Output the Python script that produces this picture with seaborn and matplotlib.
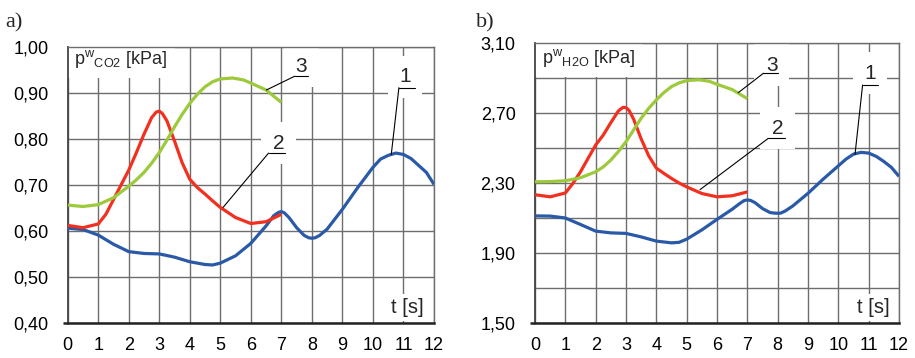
import matplotlib
matplotlib.use("Agg")
import matplotlib.pyplot as plt
import seaborn as sns
import pandas as pd
from matplotlib.ticker import FuncFormatter, FixedLocator

# ---------------- data ----------------
t_1 = [0, 0.5, 1, 1.5, 2, 2.5, 3, 3.5, 4, 4.5, 4.75, 5, 5.5, 6, 6.5, 6.75, 6.9, 7, 7.1,
       7.25, 7.5, 7.75, 7.9, 8, 8.1, 8.25, 8.5, 9, 9.5, 10, 10.25, 10.5, 10.75, 11,
       11.25, 11.5, 11.75, 12]
t_2 = [0, 0.5, 1, 1.25, 1.5, 1.75, 2, 2.25, 2.5, 2.75, 2.9, 3, 3.1, 3.25, 3.5, 3.75,
       4, 4.25, 4.5, 4.75, 5, 5.5, 6, 6.5, 7]
t_3 = [0, 0.5, 1, 1.5, 2, 2.25, 2.5, 2.75, 3, 3.25, 3.5, 3.75, 4, 4.25, 4.5, 4.75, 5,
       5.4, 5.75, 6, 6.5, 7]

co2_1 = [0.606, 0.603, 0.591, 0.571, 0.555, 0.551, 0.550, 0.543, 0.533, 0.527, 0.526,
         0.530, 0.546, 0.573, 0.611, 0.633, 0.640, 0.642, 0.639, 0.629, 0.607, 0.590,
         0.585, 0.584, 0.585, 0.590, 0.604, 0.647, 0.694, 0.738, 0.756, 0.764, 0.769,
         0.766, 0.757, 0.742, 0.727, 0.701]
co2_2 = [0.612, 0.607, 0.615, 0.636, 0.668, 0.700, 0.732, 0.770, 0.810, 0.846, 0.858,
         0.860, 0.855, 0.839, 0.795, 0.748, 0.712, 0.694, 0.680, 0.665, 0.651, 0.629,
         0.616, 0.620, 0.636]
co2_3 = [0.656, 0.653, 0.657, 0.672, 0.697, 0.711, 0.727, 0.747, 0.770, 0.797, 0.826,
         0.853, 0.877, 0.897, 0.913, 0.924, 0.930, 0.932, 0.928, 0.921, 0.906, 0.879]

h2o_1 = [2.112, 2.111, 2.100, 2.063, 2.025, 2.015, 2.012, 1.992, 1.968, 1.958, 1.961,
         1.979, 2.032, 2.092, 2.150, 2.183, 2.200, 2.203, 2.201, 2.188, 2.154, 2.131,
         2.128, 2.127, 2.128, 2.140, 2.169, 2.241, 2.322, 2.398, 2.436, 2.465, 2.475,
         2.471, 2.452, 2.423, 2.389, 2.338]
h2o_2 = [2.233, 2.221, 2.243, 2.298, 2.364, 2.441, 2.517, 2.574, 2.645, 2.712, 2.732,
         2.731, 2.715, 2.665, 2.552, 2.455, 2.385, 2.355, 2.326, 2.300, 2.278, 2.240,
         2.221, 2.227, 2.249]
h2o_3 = [2.307, 2.308, 2.313, 2.330, 2.364, 2.392, 2.431, 2.480, 2.536, 2.603, 2.670,
         2.727, 2.775, 2.817, 2.851, 2.872, 2.885, 2.890, 2.881, 2.864, 2.834, 2.782]

x_ticks = list(range(0, 13))
co2_ticks = [0.40, 0.50, 0.60, 0.70, 0.80, 0.90, 1.00]
h2o_ticks = [1.50, 1.90, 2.30, 2.70, 3.10]
h2o_minor = [1.70, 2.10, 2.50, 2.90]

series_names = ["1", "2", "3"]

# ---------------- style ----------------
sns.set_theme(style="white")
plt.rcParams["font.family"] = ["Liberation Sans", "DejaVu Sans"]
plt.rcParams["mathtext.fontset"] = "custom"
plt.rcParams["mathtext.rm"] = "Liberation Sans"
plt.rcParams["mathtext.it"] = "Liberation Sans:italic"
plt.rcParams["axes.axisbelow"] = True

BLUE = "#2a5aa7"
RED = "#f2301f"
GREEN = "#9cca3a"
GRID = "#6e6e6e"
colors = {"1": BLUE, "2": RED, "3": GREEN}


def make_df(t1, v1, t2, v2, t3, v3):
    frames = []
    for name, t, v in zip(series_names, [t1, t2, t3], [v1, v2, v3]):
        frames.append(pd.DataFrame({"t": t, "p": v, "curve": name}))
    return pd.concat(frames, ignore_index=True)


df_co2 = make_df(t_1, co2_1, t_2, co2_2, t_3, co2_3)
df_h2o = make_df(t_1, h2o_1, t_2, h2o_2, t_3, h2o_3)

fig = plt.figure(figsize=(9.15, 3.58), dpi=100)
ax1 = fig.add_axes([67.7 / 915, 1 - 323 / 358, 366.3 / 915, 276.3 / 358])
ax2 = fig.add_axes([535 / 915, 1 - 323 / 358, 364 / 915, 280 / 358])

comma = FuncFormatter(lambda v, p: f"{v:.2f}".replace(".", ","))


def style_axes(ax, ylim, major, minor):
    ax.set_xlim(0, 12)
    ax.set_ylim(*ylim)
    ax.xaxis.set_major_locator(FixedLocator(x_ticks))
    ax.yaxis.set_major_locator(FixedLocator(major))
    if minor:
        ax.yaxis.set_minor_locator(FixedLocator(minor))
    ax.yaxis.set_major_formatter(comma)
    ax.grid(True, which="both", color=GRID, linewidth=1.0)
    ax.tick_params(axis="both", which="both", length=0, labelsize=13, colors="black")
    ax.tick_params(axis="y", pad=14)
    ax.tick_params(axis="x", pad=10)
    for s in ["top", "right"]:
        ax.spines[s].set_color(GRID)
        ax.spines[s].set_linewidth(1.0)
    ax.spines["left"].set_color("#444444")
    ax.spines["left"].set_linewidth(1.3)
    ax.spines["bottom"].set_color("#222222")
    ax.spines["bottom"].set_linewidth(1.8)
    # small extension of the bottom axis line to the left
    ax.plot([-0.013, 0], [0, 0], transform=ax.transAxes, color="#222222",
            lw=1.8, clip_on=False, solid_capstyle="butt")
    ax.set_xlabel("")
    ax.set_ylabel("")


def draw(ax, df):
    sns.lineplot(data=df, x="t", y="p", hue="curve", palette=colors, ax=ax,
                 legend=False, linewidth=2.3, sort=True, estimator=None, zorder=3)
    for ln in ax.lines:
        ln.set_solid_joinstyle("round")
        ln.set_solid_capstyle("butt")


def number_label(ax, text, tx, ty, ux0, ux1, uy, lx, ly):
    ax.text(tx, ty, text, ha="center", va="center", fontsize=15, zorder=1.2,
            bbox=dict(boxstyle="square,pad=0.55", fc="white", ec="none"))
    ax.plot([ux0, ux1], [uy, uy], color="black", lw=0.8, zorder=4)
    ax.plot([ux0, lx], [uy, ly], color="black", lw=0.8, zorder=4)


# ---------------- panel a ----------------
draw(ax1, df_co2)
style_axes(ax1, (0.40, 1.00), co2_ticks, None)
ax1.text(0.2, 0.962, r"p$^{\mathrm{w}}$$_{\mathrm{CO2}}$ [kPa]", fontsize=13,
         ha="left", va="baseline", zorder=1.2,
         bbox=dict(boxstyle="square,pad=0.45", fc="white", ec="none"))
ax1.text(10.6, 0.433, "t [s]", fontsize=14.5, ha="left", va="center", zorder=1.2,
         bbox=dict(boxstyle="square,pad=0.2", fc="white", ec="none"))
number_label(ax1, "3", 7.66, 0.957, 7.44, 7.88, 0.936, 6.51, 0.906)
number_label(ax1, "2", 6.90, 0.790, 6.58, 7.11, 0.769, 5.09, 0.651)
number_label(ax1, "1", 11.05, 0.935, 10.85, 11.37, 0.911, 10.60, 0.766)

# ---------------- panel b ----------------
draw(ax2, df_h2o)
style_axes(ax2, (1.50, 3.10), h2o_ticks, h2o_minor)
ax2.text(0.22, 2.985, r"p$^{\mathrm{w}}$$_{\mathrm{H2O}}$ [kPa]", fontsize=13,
         ha="left", va="baseline", zorder=1.2,
         bbox=dict(boxstyle="square,pad=0.45", fc="white", ec="none"))
ax2.text(10.6, 1.588, "t [s]", fontsize=14.5, ha="left", va="center", zorder=1.2,
         bbox=dict(boxstyle="square,pad=0.2", fc="white", ec="none"))
number_label(ax2, "3", 7.80, 2.974, 7.53, 8.02, 2.927, 6.70, 2.816)
number_label(ax2, "2", 7.99, 2.613, 7.69, 8.24, 2.555, 5.44, 2.262)
number_label(ax2, "1", 11.05, 2.927, 10.80, 11.32, 2.860, 10.55, 2.464)

# panel letters
fig.text(5 / 915, 1 - 27 / 358, "a)", fontsize=16, family="Liberation Serif",
         ha="left", va="baseline")
fig.text(476 / 915, 1 - 27 / 358, "b)", fontsize=16, family="Liberation Serif",
         ha="left", va="baseline")

fig.savefig("out.png", dpi=100, facecolor="white")
